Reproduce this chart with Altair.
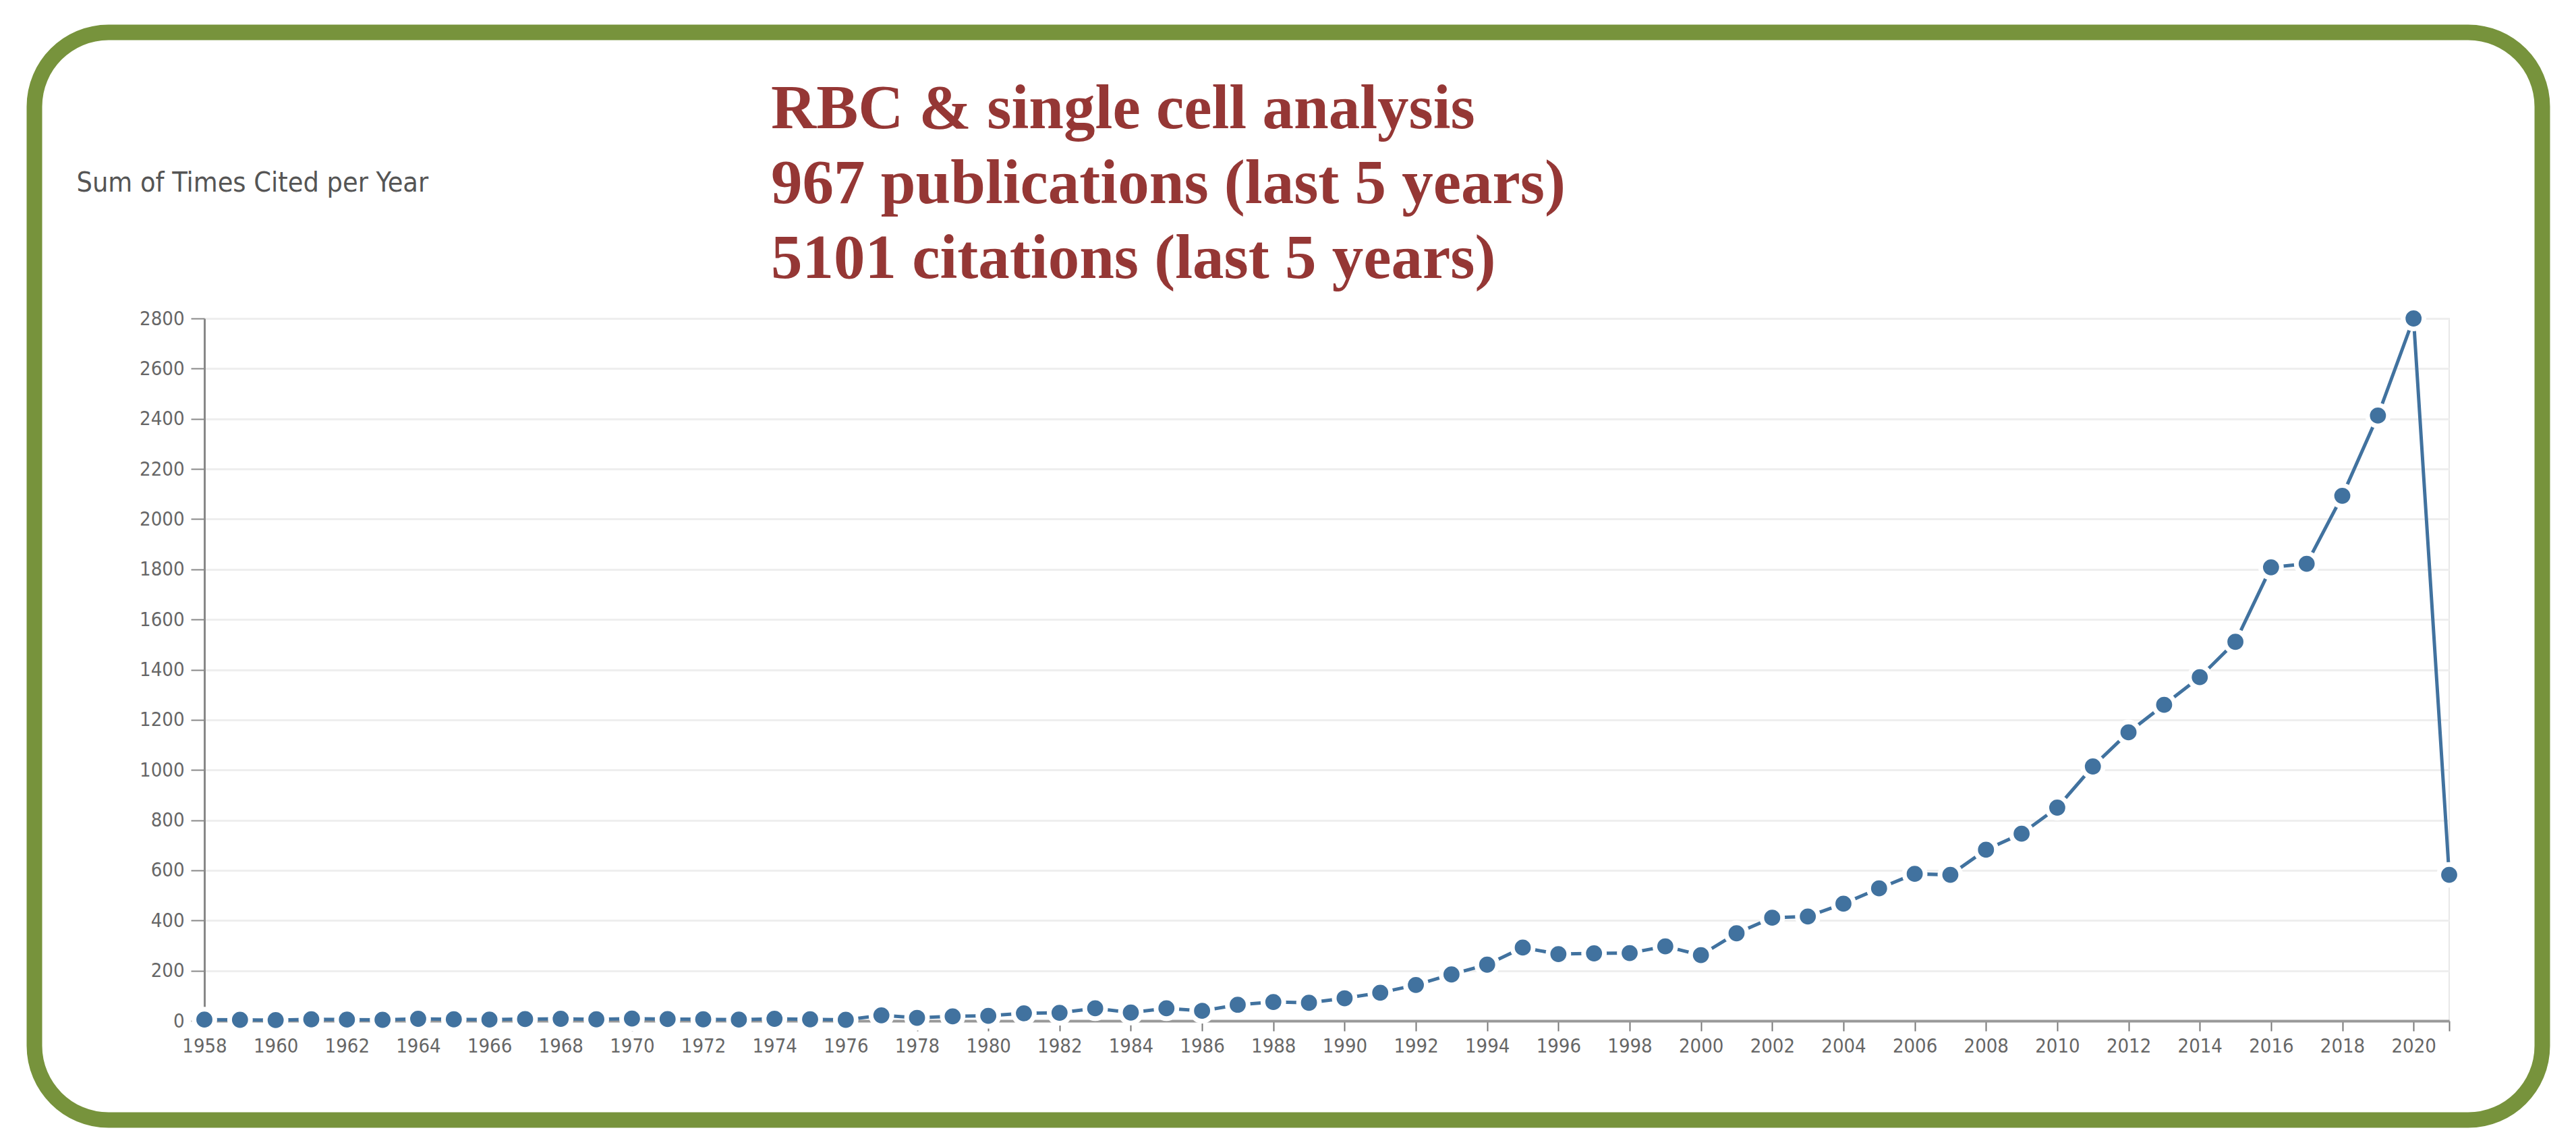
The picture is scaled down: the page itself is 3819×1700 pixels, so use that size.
import altair as alt
import pandas as pd

# ---- data ----
years = list(range(1958, 2022))
citations = [
    5, 4, 3, 6, 5, 4, 8, 6, 5, 7,          # 1958-1967
    8, 6, 9, 7, 6, 5, 8, 6, 4, 22,         # 1968-1977
    12, 18, 20, 30, 32, 50, 33, 50, 40, 64,  # 1978-1987
    75, 72, 90, 112, 143, 185, 224, 292, 266, 269,  # 1988-1997
    270, 297, 262, 349, 411, 416, 467, 528, 586, 582,  # 1998-2007
    682, 746, 850, 1014, 1150, 1260, 1370, 1511, 1808, 1822,  # 2008-2017
    2093, 2413, 2800, 582,                  # 2018-2021
]
x_tick_values = list(range(1958, 2021, 2)) + [2021]
y_tick_values = list(range(0, 2801, 200))
headline_lines = [
    "RBC & single cell analysis",
    "967 publications (last 5 years)",
    "5101 citations (last 5 years)",
]
y_title = "Sum of Times Cited per Year"

df = pd.DataFrame({"year": years, "cites": citations})
one = pd.DataFrame({"k": [0]})

W, H = 3328, 1041
BLUE = "#41729F"
SANS = "DejaVu Sans Condensed, Lato, sans-serif"
SERIF = "Liberation Serif, Times New Roman, serif"
RED = "#953735"
GREEN = "#77933C"

x_enc = alt.X(
    "year:Q",
    scale=alt.Scale(domain=[1958, 2021], nice=False, zero=False),
    axis=alt.Axis(
        values=x_tick_values,
        format="d",
        labelExpr="datum.value >= 2021 ? '' : datum.label",
        labelOverlap=False,
        labelFlush=False,
        grid=False,
        title=None,
        domainColor="#999999",
        domainWidth=4,
        tickColor="#777777",
        tickWidth=2,
        tickSize=15,
        labelPadding=8,
        labelFont=SANS,
        labelFontSize=29,
        labelColor="#666666",
    ),
)
y_enc = alt.Y(
    "cites:Q",
    scale=alt.Scale(domain=[0, 2800], nice=False),
    axis=alt.Axis(
        values=y_tick_values,
        format="d",
        grid=True,
        gridColor="#eeeeee",
        gridWidth=3,
        domainColor="#888888",
        domainWidth=3,
        tickColor="#888888",
        tickWidth=2,
        tickSize=20,
        labelPadding=10,
        labelFont=SANS,
        labelFontSize=29,
        labelColor="#666666",
        title=y_title,
        titleAngle=0,
        titleAlign="left",
        titleBaseline="alphabetic",
        titleX=-190,
        titleY=-189,
        titleFont=SANS,
        titleFontSize=41,
        titleFontWeight="normal",
        titleColor="#555555",
    ),
)

base = alt.Chart(df).encode(x=x_enc, y=y_enc)
line = base.mark_line(color=BLUE, strokeWidth=5)
points = base.mark_circle(
    size=950, fill=BLUE, stroke="white", strokeWidth=7,
    opacity=1, fillOpacity=1, strokeOpacity=1,
)

border = alt.Chart(one).mark_rect(
    fill="white", fillOpacity=0, stroke=GREEN, strokeWidth=23, cornerRadius=110,
).encode(
    x=alt.value(-252), x2=alt.value(3466), y=alt.value(-424), y2=alt.value(1188)
)

texts = []
for i, t in enumerate(headline_lines):
    texts.append(
        alt.Chart(pd.DataFrame({"t": [t]})).mark_text(
            align="left", baseline="alphabetic", font=SERIF, fontWeight="bold",
            fontSize=93, color=RED,
        ).encode(text="t:N", x=alt.value(840), y=alt.value(-282 + 111 * i))
    )

chart = alt.layer(border, line, points, *texts).properties(
    width=W, height=H,
    autosize=alt.AutoSizeParams(type="none"),
    padding={"left": 295, "top": 464, "right": 170, "bottom": 160},
    background="white",
).configure_view(stroke="#e8e8e8", strokeWidth=2)

chart.save("out.html", embed_options={"renderer": "svg", "actions": False})
